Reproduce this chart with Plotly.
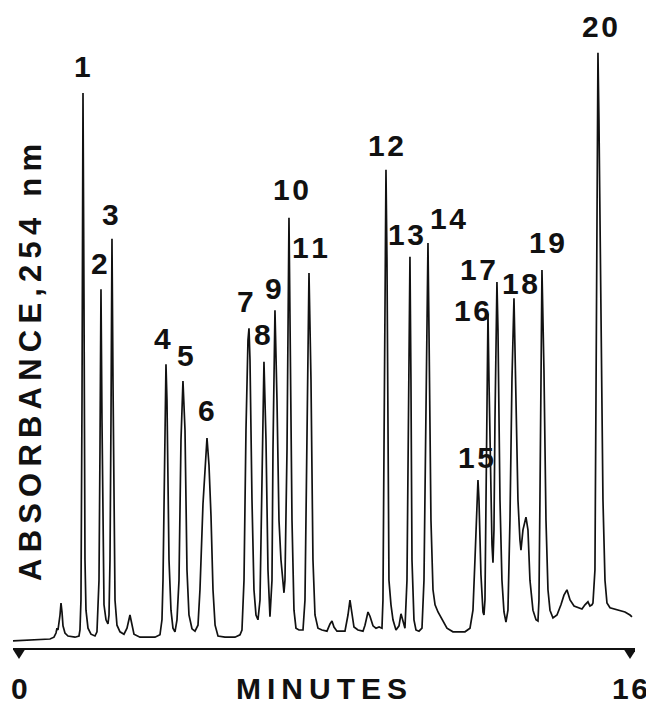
import plotly.graph_objects as go

# ---- data ----
trace_minutes = [
    -0.157, 0.288, 0.812, 0.916, 0.969, 0.995, 1.021, 1.074, 1.100, 1.126, 1.152, 1.204, 1.283, 1.466, 1.571,
    1.597, 1.623, 1.650, 1.676, 1.702, 1.728, 1.754, 1.807, 1.885, 1.990,
    2.042, 2.095, 2.121, 2.147, 2.173, 2.200, 2.226, 2.278, 2.330,
    2.357, 2.383, 2.409, 2.435, 2.461, 2.488, 2.514, 2.566, 2.645, 2.749,
    2.828, 2.906, 2.959, 3.011, 3.168, 3.561, 3.692,
    3.744, 3.771, 3.823, 3.849, 3.875, 3.928, 3.980, 4.032, 4.085,
    4.137, 4.190, 4.242, 4.294, 4.347, 4.399, 4.451, 4.530, 4.609,
    4.687, 4.739, 4.818, 4.870, 4.923, 4.975, 5.028, 5.080, 5.135, 5.211, 5.394, 5.656, 5.787,
    5.839, 5.892, 5.944, 5.996, 6.023, 6.049, 6.101, 6.153, 6.206, 6.258,
    6.311, 6.363, 6.415, 6.468, 6.520, 6.572,
    6.625, 6.651, 6.703, 6.756, 6.808, 6.860, 6.913, 6.939,
    6.965, 7.018, 7.070, 7.096, 7.149, 7.201, 7.253, 7.332, 7.437,
    7.489, 7.541, 7.594, 7.646, 7.698, 7.751, 7.829, 7.934, 8.065,
    8.144, 8.196, 8.248, 8.327, 8.536, 8.615, 8.667, 8.720, 8.772, 8.877, 9.008,
    9.060, 9.139, 9.191, 9.270, 9.348, 9.429, 9.505,
    9.531, 9.558, 9.584, 9.610, 9.636, 9.662, 9.688, 9.741, 9.793, 9.872, 9.951, 10.003, 10.055, 10.107,
    10.160, 10.186, 10.238, 10.264, 10.291, 10.343, 10.395, 10.474, 10.553,
    10.605, 10.657, 10.710, 10.736, 10.788, 10.841, 10.895, 10.972, 11.077, 11.207, 11.364, 11.679, 11.810, 11.888,
    11.940, 11.993, 12.019, 12.045, 12.097, 12.150, 12.176,
    12.202, 12.228, 12.254, 12.281, 12.307, 12.359, 12.386, 12.412,
    12.438, 12.464, 12.516, 12.543, 12.595, 12.647, 12.700, 12.752,
    12.804, 12.857, 12.909, 12.962, 13.014, 13.066, 13.118, 13.145,
    13.197, 13.276, 13.328, 13.380, 13.459, 13.538, 13.590,
    13.616, 13.642, 13.669, 13.695, 13.747, 13.800, 13.852, 13.905, 13.983, 14.088,
    14.192, 14.271, 14.349, 14.430, 14.535, 14.638, 14.742, 14.821, 14.899, 14.951, 15.004,
    15.030, 15.082, 15.109, 15.135, 15.161, 15.187, 15.240, 15.292, 15.345, 15.397, 15.476, 15.685, 15.868, 16.000, 16.052,
]
trace_absorbance = [
    1.2, 1.3, 1.5, 1.8, 2.5, 3.3, 3.0, 5.5, 7.5, 6.0, 3.7, 2.5, 2.0, 1.8, 2.0,
    3.0, 8.0, 41.3, 92.5, 58.0, 14.7, 6.3, 3.3, 2.3, 2.0,
    2.7, 11.3, 33.0, 59.8, 38.0, 14.7, 7.2, 4.7, 4.0,
    5.5, 14.7, 38.0, 68.2, 44.7, 18.0, 8.0, 3.8, 2.7, 2.3,
    3.3, 5.5, 4.0, 2.3, 1.8, 1.8, 2.2,
    4.7, 11.3, 38.0, 47.3, 41.3, 14.7, 6.3, 3.3, 2.7,
    4.7, 11.3, 34.7, 44.5, 36.3, 13.0, 5.5, 3.2, 2.8,
    3.8, 9.7, 24.0, 30.5, 35.0, 30.5, 22.0, 9.7, 3.8, 2.0, 1.8, 1.8, 2.2,
    3.0, 11.3, 36.3, 51.3, 53.3, 48.0, 24.7, 9.7, 5.5, 4.7,
    8.0, 31.3, 47.7, 34.7, 13.0, 5.2,
    11.3, 33.0, 56.3, 41.3, 21.3, 14.7, 10.5, 9.2,
    11.3, 33.0, 71.7, 58.0, 21.3, 6.3, 3.3, 3.0, 3.0,
    8.0, 38.0, 62.5, 44.7, 14.7, 5.5, 3.3, 3.0, 2.8,
    4.0, 4.5, 3.5, 2.8, 2.8, 5.5, 8.0, 5.5, 3.5, 3.0, 2.8,
    3.8, 6.0, 5.3, 3.7, 3.3, 3.5, 3.3,
    8.0, 33.0, 66.3, 79.7, 64.7, 28.0, 11.3, 7.2, 4.7, 3.0, 3.7, 5.7, 4.3, 3.3,
    11.3, 33.0, 65.2, 44.7, 14.7, 4.7, 3.0, 2.8, 3.3,
    11.3, 36.3, 67.5, 53.0, 21.3, 9.7, 7.2, 6.0, 4.7, 3.3, 2.7, 2.7, 3.3, 6.3,
    14.7, 24.7, 28.0, 24.7, 12.2, 6.0, 5.5,
    8.0, 28.0, 48.0, 55.7, 44.7, 24.7, 17.2, 14.2,
    19.7, 38.0, 61.0, 53.0, 24.7, 11.3, 6.0, 4.3,
    6.3, 21.3, 44.7, 58.3, 43.0, 24.7, 18.0, 16.3,
    19.7, 21.8, 19.7, 11.3, 6.3, 4.7, 4.5,
    8.0, 24.7, 44.7, 63.0, 46.3, 21.3, 9.7, 6.3, 5.0, 5.5,
    7.2, 8.8, 9.7, 8.0, 7.0, 6.8, 6.5, 7.2, 7.7, 7.0, 7.2,
    7.5, 13.0, 41.3, 74.7, 99.2, 88.0, 58.0, 24.7, 11.3, 7.5, 6.7, 6.3, 6.0, 5.5, 5.2,
]

peak_numbers = [str(i) for i in range(1, 21)]
peak_minutes = [1.676, 2.147, 2.435, 3.849, 4.294, 4.923, 6.023, 6.415, 6.703, 7.070,
                7.594, 9.610, 10.238, 10.710, 12.019, 12.281, 12.516, 12.962, 13.695, 15.161]
peak_heights = [92.5, 59.8, 68.2, 47.3, 44.5, 35.0, 53.3, 47.7, 56.3, 71.7,
                62.5, 79.7, 65.2, 67.5, 28.0, 55.7, 61.0, 58.3, 63.0, 99.2]

axis_ticks = [0, 16]
axis_tick_labels = ["0", "16"]
x_title = "MINUTES"
y_title = "ABSORBANCE,254 nm"

# ---- styling (label offsets in pixels from each peak apex) ----
label_dx = [-1, -1, -1, -3, 3, 0, -4, -1, -1, 2, 1, 0, -4, 20, -2, -16, -19, 6, 5, 2]
label_dy = [27, 26, 24, 26, 26, 28, 27, 27, 22, 28, 26, 24, 22, 25, 23, 3, 13, 15, 28, 26]

THIN = "\u2009"
HAIR = "\u200a"
FONT = "Liberation Sans"
INK = "#111111"


def spaced(s, sep=THIN):
    return sep.join(list(s))


fig = go.Figure()
fig.add_trace(go.Scatter(
    x=trace_minutes, y=trace_absorbance, mode="lines",
    line=dict(color=INK, width=1.7), hoverinfo="skip", showlegend=False,
))

annotations = []
for num, t, h, dx, dy in zip(peak_numbers, peak_minutes, peak_heights, label_dx, label_dy):
    annotations.append(dict(
        x=t, y=h, xref="x", yref="y", text="<b>" + spaced(num, HAIR) + "</b>", showarrow=False,
        xanchor="center", yanchor="middle", xshift=dx, yshift=dy,
        font=dict(family=FONT, size=30, color=INK),
    ))

for t, lab in zip(axis_ticks, axis_tick_labels):
    annotations.append(dict(
        x=t, y=0, xref="x", yref="paper", text="<b>" + spaced(lab, HAIR) + "</b>", showarrow=False,
        xanchor="center", yanchor="middle", yshift=-40, borderpad=0,
        font=dict(family=FONT, size=30, color=INK),
    ))

annotations.append(dict(
    x=0.4952, y=0, xref="paper", yref="paper", text="<b>" + spaced(x_title) + "</b>",
    showarrow=False, xanchor="center", yanchor="middle", yshift=-40, borderpad=0,
    font=dict(family=FONT, size=30, color=INK),
))
annotations.append(dict(
    x=0.0289, y=0.4767, xref="paper", yref="paper", text="<b>" + spaced(y_title) + "</b>",
    showarrow=False, xanchor="center", yanchor="middle", textangle=-90,
    font=dict(family=FONT, size=31, color=INK),
))

shapes = []
for t in axis_ticks:
    shapes.append(dict(
        type="path", xref="x", yref="paper", xsizemode="pixel", ysizemode="pixel",
        xanchor=t, yanchor=0, path="M -7 0 L 7 0 L 0 -11 Z",
        fillcolor=INK, line=dict(color=INK, width=0),
    ))

# the page adds an 8 px body margin, so the figure is sized to fit inside it
fig.update_layout(
    width=646, height=697,
    margin=dict(l=5, r=19, t=40, b=57),
    paper_bgcolor="white", plot_bgcolor="white",
    xaxis=dict(range=[-0.157, 16.131], showgrid=False, zeroline=False,
               showticklabels=False, ticks="", showline=True,
               linecolor=INK, linewidth=2),
    yaxis=dict(range=[0, 100], visible=False),
    annotations=annotations,
    shapes=shapes,
    showlegend=False,
)

fig.write_html("out.html")
